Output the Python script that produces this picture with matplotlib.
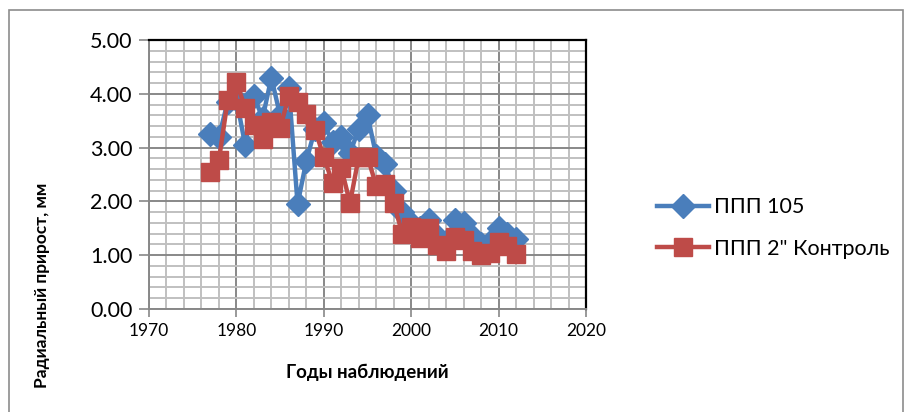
import matplotlib
matplotlib.use("Agg")
import matplotlib.pyplot as plt
from matplotlib.patches import Rectangle
from matplotlib.ticker import MultipleLocator

plt.rcParams['font.family'] = ['Lato', 'DejaVu Sans']

years = list(range(1977, 2013))
ppp105 = [3.25, 3.20, 3.85, 3.90, 3.05, 3.95, 3.55, 4.30, 3.60, 4.10,
          1.95, 2.75, 3.35, 3.45, 3.10, 3.20, 2.90, 3.35, 3.60, 2.85,
          2.70, 2.20, 1.80, 1.60, 1.50, 1.65, 1.35, 1.25, 1.65, 1.60,
          1.35, 1.20, 1.25, 1.50, 1.40, 1.30]
ppp2 = [2.55, 2.77, 3.88, 4.22, 3.74, 3.42, 3.16, 3.48, 3.36, 3.96,
        3.85, 3.62, 3.33, 2.83, 2.34, 2.62, 1.97, 2.83, 2.83, 2.29,
        2.32, 1.97, 1.39, 1.52, 1.32, 1.50, 1.19, 1.08, 1.34, 1.28,
        1.08, 1.00, 1.04, 1.25, 1.17, 1.02]
labels = ["ППП 105", "ППП 2\" Контроль"]

BLUE = '#4A7EBB'
RED = '#BE4B48'

fig = plt.figure(figsize=(9.12, 4.12), dpi=100)
# outer chart frame
fig.patches.append(Rectangle((9 / 912, -0.05), 894 / 912, 1.05 - 10 / 412,
                             transform=fig.transFigure, fill=False,
                             edgecolor='#8c8c8c', linewidth=1.2))

ax = fig.add_axes([149 / 912, 103 / 412, 437 / 912, 269 / 412])

ax.plot(years, ppp105, color=BLUE, linewidth=3.2, marker='D', markersize=12,
        label=labels[0], zorder=3)
ax.plot(years, ppp2, color=RED, linewidth=3.2, marker='s', markersize=12.5,
        label=labels[1], zorder=4)

ax.set_xlim(1970, 2020)
ax.set_ylim(0, 5)
ax.xaxis.set_major_locator(MultipleLocator(10))
ax.xaxis.set_minor_locator(MultipleLocator(2))
ax.yaxis.set_major_locator(MultipleLocator(1))
ax.yaxis.set_minor_locator(MultipleLocator(0.2))
ax.yaxis.set_major_formatter(matplotlib.ticker.FormatStrFormatter('%.2f'))

ax.grid(which='minor', color='#c0c0c0', linewidth=1.4, zorder=0)
ax.grid(which='major', color='#888888', linewidth=1.4, zorder=0)
ax.set_axisbelow(True)

ax.tick_params(axis='y', which='major', length=7, width=1.2, color='#888888',
               labelsize=15.5, pad=5)
ax.tick_params(axis='x', which='major', length=6, width=1.2, color='#888888',
               labelsize=12.5, pad=4)
ax.tick_params(which='minor', length=0)

for s in ['left', 'bottom']:
    ax.spines[s].set_color('#888888')
    ax.spines[s].set_linewidth(1.4)
for s in ['top', 'right']:
    ax.spines[s].set_color('black')
    ax.spines[s].set_linewidth(1.6)

ax.set_xlabel("Годы наблюдений", fontsize=13.5, fontweight='bold', labelpad=18)
fig.text(42 / 912, 1 - 285 / 412, "Радиальный прирост, мм", rotation=90,
         fontsize=12.5, fontweight='bold', ha='center', va='center')

ax.legend(loc='center left', bbox_to_anchor=(638 / 912, 1 - 228 / 412),
          bbox_transform=fig.transFigure, frameon=False, fontsize=15.5,
          handlelength=2.4, handletextpad=0.25, labelspacing=1.0)

fig.savefig("out.png", dpi=100)
